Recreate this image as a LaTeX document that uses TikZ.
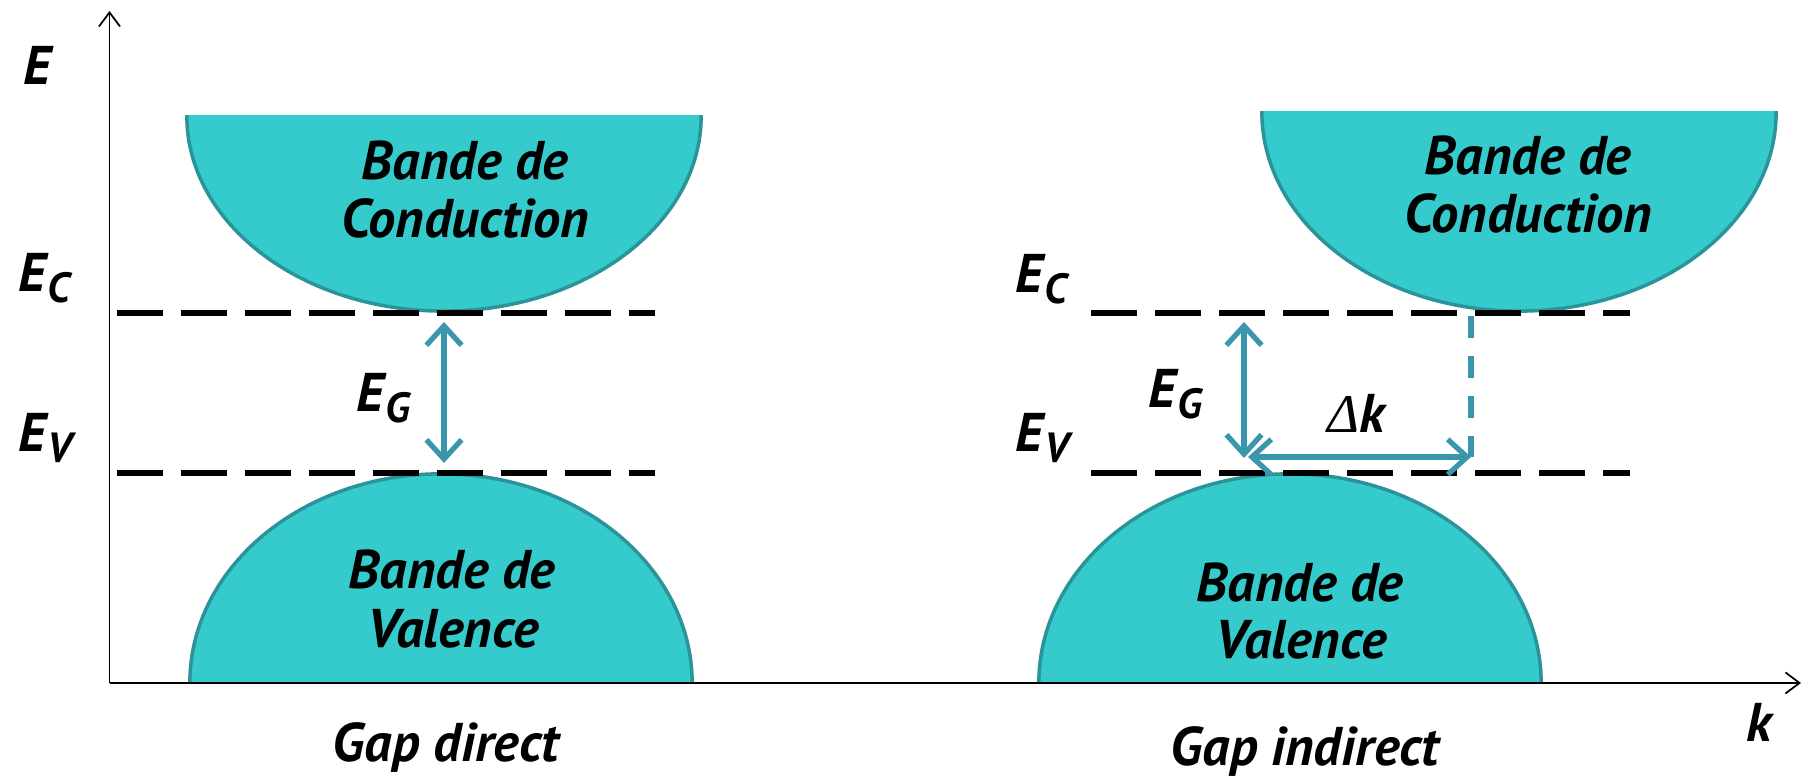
\documentclass[tikz,border=0pt]{standalone}
\usepackage{fontspec}
\setmainfont{PT Sans}
\newfontfamily\grkfont{Liberation Serif}
\usetikzlibrary{arrows.meta}
\definecolor{bandfill}{RGB}{53,203,204}
\definecolor{bandedge}{RGB}{42,148,154}
\definecolor{arrowc}{RGB}{58,150,172}
\newcommand\Esb[1]{E\kern0.3pt\raisebox{-3pt}{\fontsize{12}{14}\selectfont #1}}
\begin{document}
\begin{tikzpicture}[x=0.01cm,y=0.01cm,
  font=\bfseries\itshape\fontsize{15.5}{18}\selectfont,
  lbl/.style={inner sep=0pt},
  lvl/.style={line width=1.5pt, dash pattern=on 13.1pt off 5.1pt},
  band/.style={fill=bandfill, draw=bandedge, line width=1pt},
  gaparrow/.style={draw=arrowc, line width=1.5pt,
    {Straight Barb[length=5.5pt,width=10pt]}-{Straight Barb[length=5.5pt,width=10pt]}},
  gapdash/.style={draw=arrowc, line width=1.6pt, dash pattern=on 6.3pt off 5.1pt},
  axisline/.style={line width=0.5pt, -{Straight Barb[length=4pt,width=6pt]}}]
\useasboundingbox (0,0) rectangle (1808,780);
% bands
\begin{scope}
  \clip (100,664) rectangle (800,380);
  \filldraw[band] (444,664) ellipse [x radius=2.57cm, y radius=1.95cm];
\end{scope}
\begin{scope}
  \clip (1200,668) rectangle (1808,380);
  \filldraw[band] (1519,668) ellipse [x radius=2.57cm, y radius=1.99cm];
\end{scope}
\begin{scope}
  \clip (100,97) rectangle (800,400);
  \filldraw[band] (441,97) ellipse [x radius=2.51cm, y radius=2.09cm];
\end{scope}
\begin{scope}
  \clip (950,97) rectangle (1700,400);
  \filldraw[band] (1290,97) ellipse [x radius=2.51cm, y radius=2.09cm];
\end{scope}
% axes
\coordinate (O) at (109.5,97);
\coordinate (Ytop) at (109.5,769);
\coordinate (Xend) at (1801,97);
\draw[axisline] (O) -- (Ytop);
\draw[axisline] (O) -- (Xend);
% levels
\coordinate (ecL1) at (117,467); \coordinate (ecL2) at (655,467);
\coordinate (evL1) at (117,307); \coordinate (evL2) at (655,307);
\coordinate (ecR1) at (1091,467); \coordinate (ecR2) at (1630,467);
\coordinate (evR1) at (1091,307); \coordinate (evR2) at (1630,307);
\draw[lvl] (ecL1) -- (ecL2);
\draw[lvl] (evL1) -- (evL2);
\draw[lvl] (ecR1) -- (ecR2);
\draw[lvl] (evR1) -- (evR2);
% gap arrows
\coordinate (gL1) at (444,458); \coordinate (gL2) at (444,317);
\coordinate (gR1) at (1244,458); \coordinate (gR2) at (1244,322);
\coordinate (dk1) at (1248,323); \coordinate (dk2) at (1471,323);
\coordinate (dv1) at (1471,464);
\draw[gaparrow] (gL1) -- (gL2);
\draw[gaparrow] (gR1) -- (gR2);
\draw[gaparrow] (dk1) -- (dk2);
\draw[gapdash] (dv1) -- (dk2);
% labels
\node[lbl, anchor=base] (lE) at (37,695) {E};
\node[lbl, anchor=base west] (lECl) at (18,488) {\Esb{C}};
\node[lbl, anchor=base west] (lEVl) at (18,328) {\Esb{V}};
\node[lbl, anchor=base west] (lECr) at (1015,487) {\Esb{C}};
\node[lbl, anchor=base west] (lEVr) at (1015,328) {\Esb{V}};
\node[lbl, anchor=base west] (lEGl) at (356,368) {\Esb{G}};
\node[lbl, anchor=base west] (lEGr) at (1148,372) {\Esb{G}};
\node[lbl, anchor=base] (ldk) at (1356,347) {{\grkfont\itshape\mdseries Δ}k};
\node[lbl, anchor=base] (lk) at (1759,38) {k};
\node[lbl, anchor=base] (cLa) at (465,600) {Bande de};
\node[lbl, anchor=base] (cLb) at (465,542) {Conduction};
\node[lbl, anchor=base] (cRa) at (1528,605) {Bande de};
\node[lbl, anchor=base] (cRb) at (1528,547) {Conduction};
\node[lbl, anchor=base] (vLa) at (452,191) {Bande de};
\node[lbl, anchor=base] (vLb) at (453,132) {Valence};
\node[lbl, anchor=base] (vRa) at (1300,178) {Bande de};
\node[lbl, anchor=base] (vRb) at (1301,121) {Valence};
\node[lbl, anchor=base] (gd) at (446,18) {Gap direct};
\node[lbl, anchor=base] (gi) at (1305,14) {Gap indirect};
\end{tikzpicture}
\end{document}
